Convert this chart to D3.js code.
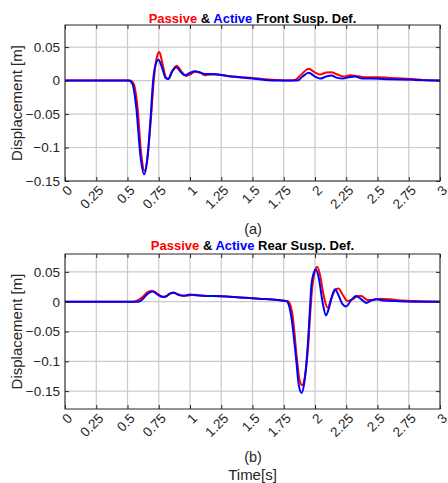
<!DOCTYPE html>
<html>
<head>
<meta charset="utf-8">
<script src="https://cdn.jsdelivr.net/npm/d3@7"></script>
<style>
  body { margin: 0; background: #fff; }
  svg { display: block; font-family: Arial, "Liberation Sans", sans-serif; }
</style>
</head>
<body>
<svg width="448" height="483"></svg>
<script>
// Ticks
const xTicks = [0, 0.25, 0.5, 0.75, 1, 1.25, 1.5, 1.75, 2, 2.25, 2.5, 2.75, 3];
const xTickLabels = ["0", "0.25", "0.5", "0.75", "1", "1.25", "1.5", "1.75", "2", "2.25", "2.5", "2.75", "3"];
const frontYTicks = [-0.15, -0.1, -0.05, 0, 0.05];
const rearYTicks = [-0.15, -0.1, -0.05, 0, 0.05];

// Front suspension deflection [t, value]
const frontPassive = [[0,0],[0.52,0],[0.55,-0.005],[0.58,-0.04],[0.61,-0.11],[0.637,-0.135],[0.665,-0.105],[0.69,-0.05],[0.71,0.0],[0.735,0.035],[0.755,0.0425],[0.78,0.025],[0.81,0.004],[0.83,0.003],[0.86,0.015],[0.895,0.022],[0.93,0.014],[0.97,0.007],[1.0,0.009],[1.04,0.013],[1.08,0.012],[1.12,0.008],[1.17,0.009],[1.22,0.009],[1.3,0.007],[1.4,0.005],[1.5,0.004],[1.6,0.002],[1.7,0.001],[1.78,0],[1.84,0.001],[1.89,0.009],[1.95,0.0175],[2.0,0.012],[2.04,0.009],[2.09,0.012],[2.13,0.0125],[2.18,0.009],[2.23,0.006],[2.28,0.008],[2.33,0.007],[2.4,0.005],[2.5,0.005],[2.6,0.004],[2.7,0.003],[2.8,0.002],[2.86,0.001],[3,0]];
const frontActive = [[0,0],[0.51,0],[0.54,-0.005],[0.57,-0.04],[0.605,-0.115],[0.633,-0.14],[0.66,-0.115],[0.685,-0.055],[0.705,0.0],[0.73,0.027],[0.747,0.031],[0.775,0.02],[0.805,0.004],[0.825,0.002],[0.855,0.013],[0.89,0.02],[0.925,0.013],[0.96,0.008],[0.995,0.011],[1.04,0.014],[1.08,0.012],[1.12,0.01],[1.17,0.01],[1.22,0.009],[1.3,0.007],[1.4,0.005],[1.5,0.003],[1.6,0.001],[1.7,0],[1.86,0],[1.9,0.006],[1.95,0.0115],[2.0,0.006],[2.04,0.003],[2.09,0.006],[2.13,0.0075],[2.18,0.004],[2.22,0.003],[2.27,0.005],[2.32,0.006],[2.38,0.003],[2.45,0.003],[2.6,0.002],[2.8,0.001],[3,0]];

// Rear suspension deflection [t, value]
const rearPassive = [[0,0],[0.55,0],[0.58,0.002],[0.62,0.008],[0.66,0.016],[0.695,0.0185],[0.73,0.015],[0.77,0.009],[0.8,0.008],[0.83,0.012],[0.865,0.0155],[0.9,0.013],[0.95,0.01],[1.0,0.011],[1.04,0.0115],[1.1,0.01],[1.25,0.009],[1.4,0.007],[1.55,0.005],[1.7,0.003],[1.78,0.001],[1.8,-0.004],[1.82,-0.022],[1.855,-0.095],[1.875,-0.13],[1.897,-0.14],[1.92,-0.125],[1.945,-0.075],[1.965,-0.01],[1.977,0.022],[1.995,0.048],[2.018,0.0587],[2.04,0.045],[2.07,0.01],[2.1,-0.01],[2.13,0.005],[2.16,0.019],[2.187,0.022],[2.22,0.012],[2.26,0.001],[2.3,0.004],[2.34,0.009],[2.37,0.0095],[2.42,0.003],[2.46,0.003],[2.52,0.005],[2.6,0.004],[2.7,0.002],[2.8,0.001],[3,0]];
const rearActive = [[0,0],[0.59,0],[0.62,0.004],[0.66,0.013],[0.7,0.017],[0.74,0.012],[0.78,0.008],[0.81,0.009],[0.84,0.014],[0.87,0.015],[0.91,0.011],[0.95,0.01],[1.0,0.012],[1.04,0.011],[1.1,0.01],[1.25,0.009],[1.4,0.007],[1.55,0.005],[1.7,0.003],[1.77,0.001],[1.79,-0.005],[1.81,-0.025],[1.85,-0.098],[1.87,-0.14],[1.893,-0.153],[1.915,-0.135],[1.94,-0.08],[1.96,-0.01],[1.97,0.025],[1.99,0.048],[2.008,0.054],[2.03,0.04],[2.06,0.0],[2.088,-0.023],[2.11,-0.012],[2.14,0.012],[2.16,0.021],[2.19,0.01],[2.22,-0.004],[2.25,-0.008],[2.29,0.003],[2.33,0.0095],[2.37,0.004],[2.41,-0.002],[2.45,0.002],[2.49,0.004],[2.55,0.002],[2.65,0.001],[2.8,0],[3,0]];

const svg = d3.select("svg");
const axisColor = "#262626", gridColor = "#cacaca";

const x = d3.scaleLinear().domain([0, 3]).range([65, 440]);

const panels = [
  { name: "Front", tag: "(a)", passive: frontPassive, active: frontActive, yTicks: frontYTicks,
    y: d3.scaleLinear().domain([-0.15, 0.083]).range([181, 25]), titleY: 22.5, tagY: 234 },
  { name: "Rear", tag: "(b)", passive: rearPassive, active: rearActive, yTicks: rearYTicks,
    y: d3.scaleLinear().domain([-0.18, 0.08]).range([409, 254]), titleY: 250, tagY: 462 }
];

panels.forEach(p => {
  const y = p.y;
  const [y0, y1] = y.range();
  const g = svg.append("g");

  // grid
  g.selectAll(".gx").data(xTicks).enter().append("line")
    .attr("x1", d => x(d)).attr("x2", d => x(d)).attr("y1", y1).attr("y2", y0)
    .attr("stroke", gridColor).attr("stroke-width", 1.2);
  g.selectAll(".gy").data(p.yTicks).enter().append("line")
    .attr("x1", 65).attr("x2", 440).attr("y1", d => y(d)).attr("y2", d => y(d))
    .attr("stroke", gridColor).attr("stroke-width", 1.2);

  // lines
  const line = d3.line().x(d => x(d[0])).y(d => y(d[1])).curve(d3.curveMonotoneX);
  g.append("path").attr("d", line(p.passive)).attr("fill", "none")
    .attr("stroke", "#ff0000").attr("stroke-width", 2);
  g.append("path").attr("d", line(p.active)).attr("fill", "none")
    .attr("stroke", "#0000ff").attr("stroke-width", 2);

  // axes (ticks inside)
  g.append("g").attr("transform", `translate(0,${y0})`)
    .call(d3.axisBottom(x).tickValues(xTicks).tickSize(-4).tickFormat(""))
    .call(a => a.select(".domain").remove());
  g.append("g").attr("transform", `translate(0,${y1})`)
    .call(d3.axisTop(x).tickValues(xTicks).tickSize(-4).tickFormat(""))
    .call(a => a.select(".domain").remove());
  g.append("g").attr("transform", "translate(65,0)")
    .call(d3.axisLeft(y).tickValues(p.yTicks).tickSize(-4).tickPadding(5).tickFormat(d => d === 0 ? "0" : d3.format("")(+d.toFixed(2))))
    .call(a => a.select(".domain").remove());
  g.append("g").attr("transform", "translate(440,0)")
    .call(d3.axisRight(y).tickValues(p.yTicks).tickSize(-4).tickFormat(""))
    .call(a => a.select(".domain").remove());
  g.selectAll(".tick line").attr("stroke", axisColor);
  g.selectAll(".tick text").attr("fill", axisColor).style("font-size", "13.5px")
    .style("font-family", "Arial, 'Liberation Sans', sans-serif");

  g.append("rect").attr("x", 65).attr("y", y1).attr("width", 375).attr("height", y0 - y1)
    .attr("fill", "none").attr("stroke", axisColor).attr("stroke-width", 1);

  // rotated x tick labels
  g.selectAll(".xl").data(xTicks).enter().append("text")
    .attr("transform", (d, i) => `translate(${x(d) + 5},${y0 + 7}) rotate(-45)`)
    .attr("text-anchor", "end").attr("dominant-baseline", "central")
    .attr("fill", axisColor).style("font-size", "13.5px")
    .text((d, i) => xTickLabels[i]);

  // title
  const t = g.append("text").attr("x", 252.5).attr("y", p.titleY).attr("text-anchor", "middle")
    .style("font-size", "13px").style("font-weight", "bold");
  t.append("tspan").attr("fill", "#ff0000").text("Passive");
  t.append("tspan").attr("fill", "#000").text(" & ");
  t.append("tspan").attr("fill", "#0000ff").text("Active");
  t.append("tspan").attr("fill", "#000").text(` ${p.name} Susp. Def.`);

  // y label
  g.append("text").attr("transform", `translate(22,${(y0 + y1) / 2}) rotate(-90)`)
    .attr("text-anchor", "middle").attr("fill", axisColor).style("font-size", "15px")
    .text("Displacement [m]");

  // panel tag
  g.append("text").attr("x", 253).attr("y", p.tagY).attr("text-anchor", "middle")
    .attr("fill", axisColor).style("font-size", "14.5px").text(p.tag);
});

svg.append("text").attr("x", 252.5).attr("y", 480).attr("text-anchor", "middle")
  .attr("fill", axisColor).style("font-size", "15px").text("Time[s]");
</script>
</body>
</html>
